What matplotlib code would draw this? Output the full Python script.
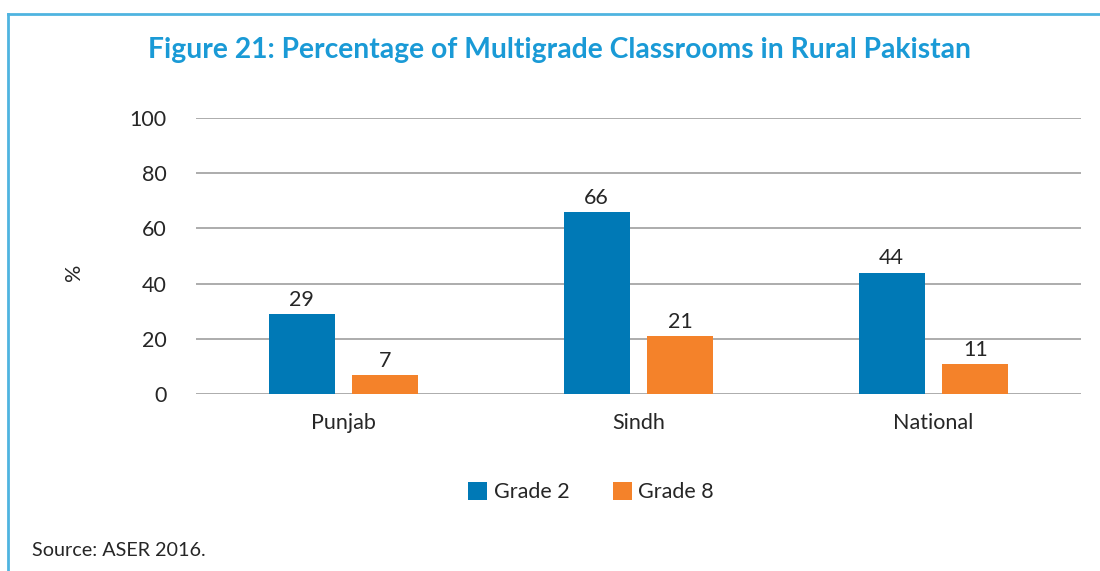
import numpy as np
import matplotlib.pyplot as plt
from matplotlib.lines import Line2D

plt.rcParams['font.family'] = ['Lato', 'DejaVu Sans']

categories = ["Punjab", "Sindh", "National"]
grade2 = [29, 66, 44]
grade8 = [7, 21, 11]
series_names = ["Grade 2", "Grade 8"]
yticks = [0, 20, 40, 60, 80, 100]

blue = "#0079b6"
orange = "#f4822a"
frame_col = "#4fb4e0"
text_col = "#262626"

fig = plt.figure(figsize=(11, 5.71), dpi=100)
ax = fig.add_axes([196 / 1100, 1 - 394 / 571, 885 / 1100, 276 / 571])

x = np.arange(len(categories))
w = 0.224
off = 0.142
b1 = ax.bar(x - off, grade2, w, color=blue, label=series_names[0], zorder=3)
b2 = ax.bar(x + off, grade8, w, color=orange, label=series_names[1], zorder=3)

for bars, vals in ((b1, grade2), (b2, grade8)):
    for rect, v in zip(bars, vals):
        ax.text(rect.get_x() + rect.get_width() / 2, v + 1.5, str(v),
                ha="center", va="bottom", fontsize=15.5, color=text_col)

ax.set_xlim(-0.5, 2.5)
ax.set_ylim(0, 100)
ax.set_yticks(yticks)
ax.set_xticks(x)
ax.set_xticklabels(categories)
ax.tick_params(axis="both", length=0, labelsize=15.5, colors=text_col)
ax.tick_params(axis="y", pad=21)
ax.tick_params(axis="x", pad=14)
ax.yaxis.grid(True, color="#a6a6a6", linewidth=1.3, zorder=0)
ax.set_axisbelow(True)
for s in ax.spines.values():
    s.set_visible(False)

fig.text(74 / 1100, 1 - 272 / 571, "%", ha="center", va="center", rotation=90,
         fontsize=15.5, color=text_col)

fig.text(559 / 1100, 1 - 50 / 571, "Figure 21: Percentage of Multigrade Classrooms in Rural Pakistan",
         ha="center", va="center", fontsize=20.3, fontweight="bold", color="#1a9ad6")

fig.legend(handles=[b1, b2], labels=series_names, loc="center",
           bbox_to_anchor=(591 / 1100, 1 - 492 / 571), ncol=2, frameon=False,
           fontsize=15.5, handlelength=0.9, handleheight=0.9, columnspacing=2.0,
           handletextpad=0.3, labelcolor=text_col)

fig.text(32 / 1100, 1 - 550 / 571, "Source: ASER 2016.", ha="left", va="center",
         fontsize=14.2, color=text_col)

# frame lines
fig.add_artist(Line2D([8 / 1100, 1], [1 - 14 / 571, 1 - 14 / 571], color=frame_col, linewidth=2))
fig.add_artist(Line2D([8 / 1100, 8 / 1100], [0, 1 - 14 / 571], color=frame_col, linewidth=2))

fig.savefig("out.png", dpi=100)
